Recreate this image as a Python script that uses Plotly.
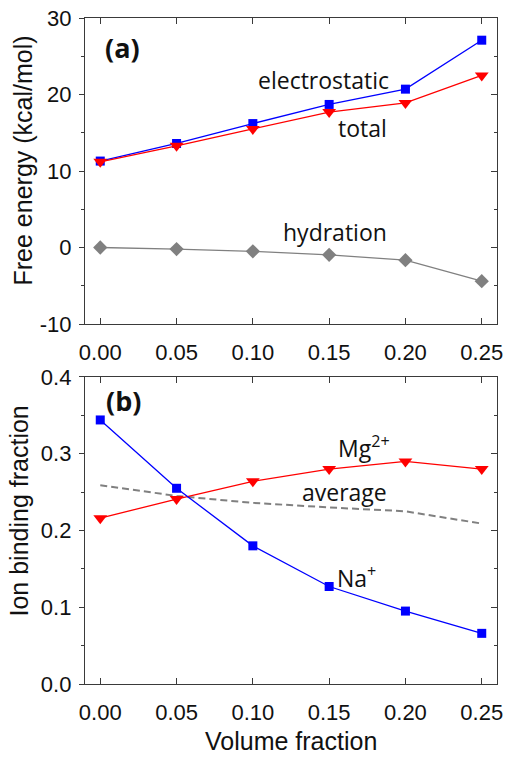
import plotly.graph_objects as go

vol = [0.00, 0.05, 0.10, 0.15, 0.20, 0.25]
electrostatic = [11.3, 13.6, 16.2, 18.7, 20.7, 27.1]
total = [11.2, 13.3, 15.5, 17.7, 18.9, 22.5]
hydration = [0.0, -0.2, -0.5, -0.95, -1.65, -4.4]

na = [0.344, 0.255, 0.180, 0.127, 0.095, 0.066]
mg = [0.216, 0.241, 0.264, 0.280, 0.290, 0.280]
avg = [0.259, 0.245, 0.236, 0.230, 0.225, 0.209]

x_ticks = [0.00, 0.05, 0.10, 0.15, 0.20, 0.25]
x_ticktext = ["0.00", "0.05", "0.10", "0.15", "0.20", "0.25"]
ya_ticks = [-10, 0, 10, 20, 30]
ya_ticktext = ["-10", "0", "10", "20", "30"]
yb_ticks = [0.0, 0.1, 0.2, 0.3, 0.4]
yb_ticktext = ["0.0", "0.1", "0.2", "0.3", "0.4"]

BLUE = "#0000FF"
RED = "#FF0000"
GREY = "#808080"
AX = "#3a3a3a"
TICKFONT = dict(family="Liberation Sans, Arial", size=22, color="#111")
TITLEFONT = dict(family="Liberation Sans, Arial", size=25, color="#111")
LBL = dict(family="Open Sans", size=23, color="#111")

fig = go.Figure()

# panel (a)
fig.add_trace(go.Scatter(x=vol, y=electrostatic, mode="lines+markers",
                         line=dict(color=BLUE, width=1.3),
                         marker=dict(symbol="square", size=9, color=BLUE),
                         xaxis="x", yaxis="y"))
fig.add_trace(go.Scatter(x=vol, y=total, mode="lines+markers",
                         line=dict(color=RED, width=1.3),
                         marker=dict(symbol="triangle-down", size=12, color=RED),
                         xaxis="x", yaxis="y"))
fig.add_trace(go.Scatter(x=vol, y=hydration, mode="lines+markers",
                         line=dict(color=GREY, width=1.3),
                         marker=dict(symbol="diamond", size=11, color=GREY),
                         xaxis="x", yaxis="y"))

# panel (b)
fig.add_trace(go.Scatter(x=vol, y=avg, mode="lines",
                         line=dict(color=GREY, width=2, dash="7px,4px"),
                         xaxis="x2", yaxis="y2"))
fig.add_trace(go.Scatter(x=vol, y=mg, mode="lines+markers",
                         line=dict(color=RED, width=1.3),
                         marker=dict(symbol="triangle-down", size=12, color=RED),
                         xaxis="x2", yaxis="y2"))
fig.add_trace(go.Scatter(x=vol, y=na, mode="lines+markers",
                         line=dict(color=BLUE, width=1.3),
                         marker=dict(symbol="square", size=9, color=BLUE),
                         xaxis="x2", yaxis="y2"))

# empty traces holding the right-side inside-tick axes
fig.add_trace(go.Scatter(x=[], y=[], xaxis="x", yaxis="y3", showlegend=False, hoverinfo="skip"))
fig.add_trace(go.Scatter(x=[], y=[], xaxis="x2", yaxis="y4", showlegend=False, hoverinfo="skip"))

xcommon = dict(range=[-0.01, 0.26], tickvals=x_ticks, ticktext=x_ticktext,
               ticks="inside", ticklen=6, tickwidth=1.3, tickcolor=AX,
               showline=True, linecolor=AX, linewidth=1.3, mirror="ticks",
               showgrid=False, zeroline=False, tickfont=TICKFONT,
               ticklabelstandoff=8, automargin=False)

ycommon = dict(ticks="outside", ticklen=5, tickwidth=1.3, tickcolor=AX,
               showline=True, linecolor=AX, linewidth=1.3, mirror=True,
               showgrid=False, zeroline=False, tickfont=TICKFONT,
               ticklabelstandoff=3, automargin=False)

rightcommon = dict(side="right", showline=False, showticklabels=False,
                   ticks="inside", ticklen=6, tickwidth=1.3, tickcolor=AX,
                   showgrid=False, zeroline=False, automargin=False)

fig.update_layout(
    template="none",
    width=512, height=758,
    margin=dict(l=85, r=15, t=18, b=74, pad=0),
    paper_bgcolor="white", plot_bgcolor="white",
    showlegend=False,
    xaxis=dict(anchor="y", domain=[0, 1], **xcommon),
    xaxis2=dict(anchor="y2", domain=[0, 1], **xcommon),
    yaxis=dict(anchor="x", domain=[0.5405, 1], range=[-10, 30],
               tickvals=ya_ticks, ticktext=ya_ticktext,
               minor=dict(ticks="outside", ticklen=3, dtick=5, tick0=0,
                          tickwidth=1.3, tickcolor=AX),
               **ycommon),
    yaxis2=dict(anchor="x2", domain=[0, 0.461], range=[0, 0.4],
                tickvals=yb_ticks, ticktext=yb_ticktext,
                minor=dict(ticks="outside", ticklen=3, dtick=0.05, tick0=0,
                           tickwidth=1.3, tickcolor=AX),
                **ycommon),
    yaxis3=dict(overlaying="y", anchor="x", range=[-10, 30], dtick=10,
                minor=dict(ticks="inside", ticklen=3, dtick=5, tick0=0,
                           tickwidth=1.3, tickcolor=AX),
                **rightcommon),
    yaxis4=dict(overlaying="y2", anchor="x2", range=[0, 0.4], dtick=0.1,
                minor=dict(ticks="inside", ticklen=3, dtick=0.05, tick0=0,
                           tickwidth=1.3, tickcolor=AX),
                **rightcommon),
)

ann = [
    # axis titles
    dict(text="Free energy (kcal/mol)", x=-0.1517, y=0.7868, xref="paper", yref="paper",
         textangle=-90, font=TITLEFONT, xanchor="center", yanchor="middle"),
    dict(text="Ion binding fraction", x=-0.1626, y=0.259, xref="paper", yref="paper",
         textangle=-90, font=TITLEFONT, xanchor="center", yanchor="middle"),
    dict(text="Volume fraction", x=0.5, y=-0.0856, xref="paper", yref="paper",
         font=TITLEFONT, xanchor="center", yanchor="middle"),
    # panel labels
    dict(text="<b>(a)</b>", x=0.002, y=26.2, xref="x", yref="y",
         font=dict(family="Open Sans", size=27, color="#111"), xanchor="left", yanchor="middle"),
    dict(text="electrostatic", x=0.1465, y=21.9, xref="x", yref="y", font=LBL,
         xanchor="center", yanchor="middle"),
    dict(text="total", x=0.172, y=15.6, xref="x", yref="y", font=LBL,
         xanchor="center", yanchor="middle"),
    dict(text="hydration", x=0.154, y=2.05, xref="x", yref="y", font=LBL,
         xanchor="center", yanchor="middle"),
    dict(text="<b>(b)</b>", x=0.0025, y=0.370, xref="x2", yref="y2",
         font=dict(family="Open Sans", size=27, color="#111"), xanchor="left", yanchor="middle"),
    dict(text="Mg<sup>2+</sup>", x=0.173, y=0.309, xref="x2", yref="y2", font=LBL,
         xanchor="center", yanchor="middle"),
    dict(text="average", x=0.160, y=0.2495, xref="x2", yref="y2", font=LBL,
         xanchor="center", yanchor="middle"),
    dict(text="Na<sup>+</sup>", x=0.168, y=0.140, xref="x2", yref="y2", font=LBL,
         xanchor="center", yanchor="middle"),
]
fig.update_layout(annotations=[dict(showarrow=False, **a) for a in ann])

fig.write_html("out.html", config={"displayModeBar": False},
               post_script="document.body.style.margin='0';")
